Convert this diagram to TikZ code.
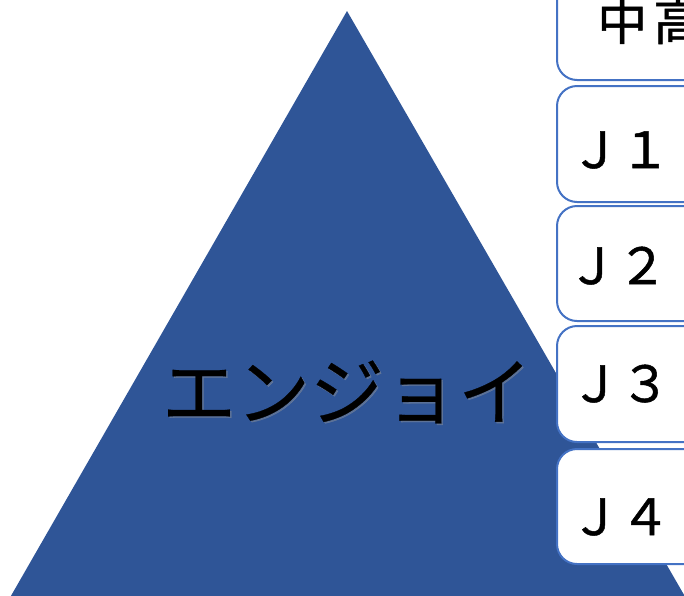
\documentclass[tikz,border=0pt]{standalone}
\usepackage{fontspec}
\newfontfamily\jp[FakeBold=1.0]{Noto Sans CJK JP}
\newfontfamily\jpbig[FakeBold=0.4]{Noto Sans CJK JP}
\definecolor{tri}{RGB}{47,85,151}
\definecolor{bx}{RGB}{68,114,196}
\begin{document}
\begin{tikzpicture}[x=1pt,y=-1pt,
 box/.style={draw=bx, line width=2pt, fill=white, rounded corners=20pt, minimum width=200pt, anchor=north west, inner sep=0pt},
 lbl/.style={font=\jp\fontsize{50}{50}\selectfont, anchor=base west, inner sep=0pt},
 big/.style={font=\jpbig\fontsize{74}{74}\selectfont, inner sep=0pt}]
\useasboundingbox (0,0) rectangle (684,595);
\clip (0,0) rectangle (684,595);
\fill[tri] (347,11) -- (8.6,600) -- (687,600) -- cycle;
\node[big, text=black!40, opacity=0.4] (enjoyshadow) at (348.5,393.5) {エンジョイ};
\node[big] (enjoy) at (347,392) {エンジョイ};
\node[box, minimum height=109pt] (b0) at (556,-30) {};
\node[box, minimum height=116pt] (b1) at (556,85) {};
\node[box, minimum height=115pt] (b2) at (556,205) {};
\node[box, minimum height=116pt] (b3) at (556,325) {};
\node[box, minimum height=115pt] (b4) at (556,448) {};
\node[lbl] (t0) at (597,40) {中\kern6pt 高};
\node[lbl] (t1) at (570,168) {Ｊ１};
\node[lbl] (t2) at (567,284) {Ｊ２};
\node[lbl] (t3) at (570,402) {Ｊ３};
\node[lbl] (t4) at (570,535) {Ｊ４};
\end{tikzpicture}
\end{document}
